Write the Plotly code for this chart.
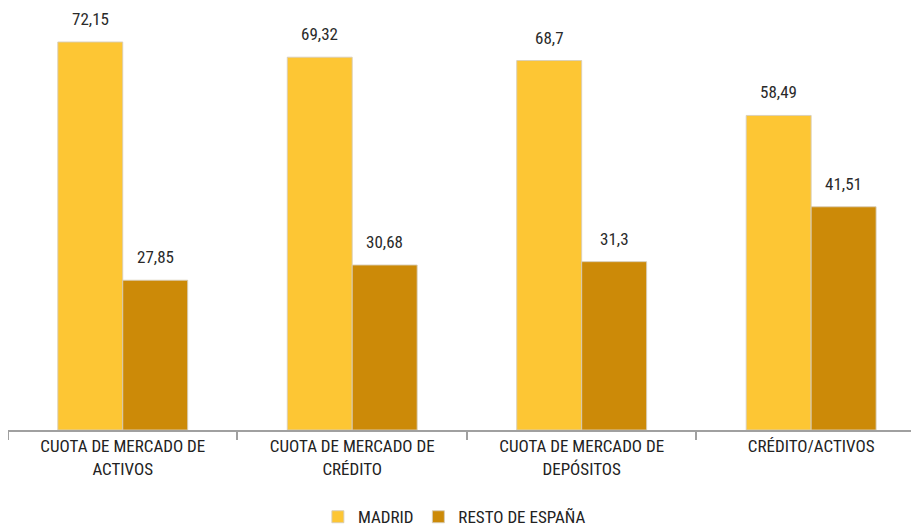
import plotly.graph_objects as go

categories = ["CUOTA DE MERCADO DE<br>ACTIVOS", "CUOTA DE MERCADO DE<br>CRÉDITO",
              "CUOTA DE MERCADO DE<br>DEPÓSITOS", "CRÉDITO/ACTIVOS"]
series_names = ["MADRID", "RESTO DE ESPAÑA"]
madrid = [72.15, 69.32, 68.7, 58.49]
resto = [27.85, 30.68, 31.3, 41.51]
colors = ["#FDC634", "#CC8A08"]

FONT = "Roboto Condensed, Liberation Sans Narrow, Arial Narrow, sans-serif"
FS = 17

def fmt(v):
    return ("%g" % v).replace(".", ",")

fig = go.Figure()
for name, vals, col in zip(series_names, [madrid, resto], colors):
    fig.add_trace(go.Bar(
        x=categories, y=vals, name=name,
        marker=dict(color=col, line=dict(color="rgba(215,205,185,0.9)", width=1)),
        hoverinfo="skip",
    ))

annotations = []
for vals, shift in [(madrid, -32.5), (resto, 32.5)]:
    for c, v in zip(categories, vals):
        annotations.append(dict(
            x=c, y=v, xref="x", yref="y", text=fmt(v), showarrow=False,
            xshift=shift, yshift=11, yanchor="bottom",
            font=dict(family=FONT, size=FS, color="#2a2a2a"),
        ))

# page body has an 8px default margin, so the figure is sized to the visible area
fig.update_layout(
    width=911, height=518,
    margin=dict(l=0, r=0, t=0, b=96, autoexpand=False),
    paper_bgcolor="white", plot_bgcolor="white",
    barmode="group", bargap=0.434, bargroupgap=0,
    font=dict(family=FONT, size=FS, color="#222222"),
    showlegend=True,
    legend=dict(orientation="h", x=0.49, xanchor="center", xref="container",
                y=0.017, yanchor="middle", yref="container",
                font=dict(family=FONT, size=FS, color="#222222"),
                itemwidth=30, traceorder="normal", itemclick=False,
                tracegroupgap=0),
    annotations=annotations,
    xaxis=dict(
        type="category",
        range=[-0.5, 3.47], showgrid=False, zeroline=False, automargin=False,
        showline=True, linecolor="#A0A0A0", linewidth=2,
        ticks="outside", ticklen=8, tickcolor="#A0A0A0", tickwidth=1.5,
        tickson="boundaries",
        tickfont=dict(family=FONT, size=FS, color="#222222"),
    ),
    yaxis=dict(range=[0, 78.47], visible=False, showgrid=False, zeroline=False,
               automargin=False),
)

fig.write_html("out.html")
